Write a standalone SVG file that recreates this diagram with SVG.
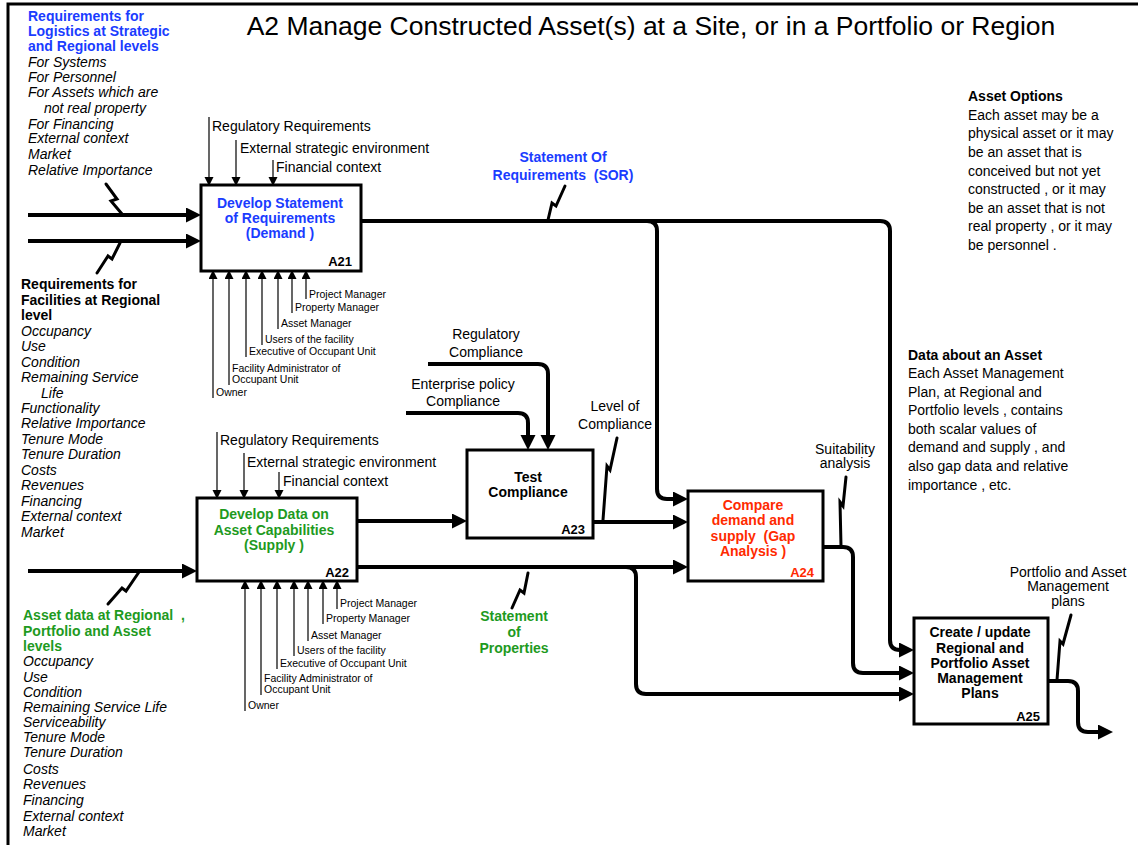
<svg xmlns="http://www.w3.org/2000/svg" width="1138" height="845" viewBox="0 0 1138 845">
<defs>
  <style>
    text { font-family: "Liberation Sans", Arial, Helvetica, sans-serif; font-size: 14px; fill: #000; }
    .b { font-weight: bold; }
    .i { font-style: italic; }
    .s { font-size: 10.5px; }
    .num { font-size: 13px; font-weight: bold; text-anchor: end; }
    .c { text-anchor: middle; }
    .blue { fill: #1a3cff; }
    .green { fill: #1e9a1e; }
    .red { fill: #ff2a00; }
    .pre { white-space: pre; }
    .box { fill: #fff; stroke: #000; stroke-width: 3; }
    .flow { fill: none; stroke: #000; stroke-width: 4; stroke-linejoin: round; marker-end: url(#big); }
    .plain { fill: none; stroke: #000; stroke-width: 4; stroke-linejoin: round; }
    .thin { fill: none; stroke: #000; stroke-width: 1.2; marker-end: url(#small); }
    .sq { fill: none; stroke: #000; stroke-width: 3; stroke-linejoin: miter; stroke-linecap: round; }
  </style>
  <marker id="big" markerUnits="userSpaceOnUse" markerWidth="16" markerHeight="16" refX="5" refY="7.5" orient="auto">
    <path d="M0,0 L15,7.5 L0,15 z" fill="#000"/>
  </marker>
  <marker id="small" markerUnits="userSpaceOnUse" markerWidth="10" markerHeight="10" refX="8" refY="4.5" orient="auto">
    <path d="M0,0 L9,4.5 L0,9 z" fill="#000"/>
  </marker>
</defs>

<rect width="1138" height="845" fill="#fff"/>

<!-- frame -->
<path d="M8,845 V4 H1138" fill="none" stroke="#000" stroke-width="3"/>

<!-- title -->
<text x="651" y="35" class="c" style="font-size:26.5px">A2 Manage Constructed Asset(s) at a Site, or in a Portfolio or Region</text>

<!-- side notes -->
<g id="note-logistics">
  <text x="28" y="21" class="b blue">Requirements for</text>
  <text x="28" y="36" class="b blue">Logistics at Strategic</text>
  <text x="28" y="51" class="b blue">and Regional levels</text>
  <text x="28" y="67" class="i">For Systems</text>
  <text x="28" y="82" class="i">For Personnel</text>
  <text x="28" y="97" class="i">For Assets which are</text>
  <text x="44" y="113" class="i">not real property</text>
  <text x="28" y="129" class="i">For Financing</text>
  <text x="28" y="143" class="i">External context</text>
  <text x="28" y="159" class="i">Market</text>
  <text x="28" y="175" class="i">Relative Importance</text>
</g>

<g id="note-facilities">
  <text x="21" y="289" class="b">Requirements for</text>
  <text x="21" y="305" class="b">Facilities at Regional</text>
  <text x="21" y="320" class="b">level</text>
  <text x="21" y="336" class="i">Occupancy</text>
  <text x="21" y="351" class="i">Use</text>
  <text x="21" y="367" class="i">Condition</text>
  <text x="21" y="382" class="i">Remaining Service</text>
  <text x="41" y="398" class="i">Life</text>
  <text x="21" y="413" class="i">Functionality</text>
  <text x="21" y="428" class="i">Relative Importance</text>
  <text x="21" y="444" class="i">Tenure Mode</text>
  <text x="21" y="459" class="i">Tenure Duration</text>
  <text x="21" y="475" class="i">Costs</text>
  <text x="21" y="490" class="i">Revenues</text>
  <text x="21" y="506" class="i">Financing</text>
  <text x="21" y="521" class="i">External context</text>
  <text x="21" y="537" class="i">Market</text>
</g>

<g id="note-asset-data">
  <text x="23" y="620" class="b green pre">Asset data at Regional  ,</text>
  <text x="23" y="636" class="b green">Portfolio and Asset</text>
  <text x="23" y="651" class="b green">levels</text>
  <text x="23" y="666" class="i">Occupancy</text>
  <text x="23" y="682" class="i">Use</text>
  <text x="23" y="697" class="i">Condition</text>
  <text x="23" y="712" class="i">Remaining Service Life</text>
  <text x="23" y="727" class="i">Serviceability</text>
  <text x="23" y="742" class="i">Tenure Mode</text>
  <text x="23" y="757" class="i">Tenure Duration</text>
  <text x="23" y="774" class="i">Costs</text>
  <text x="23" y="789" class="i">Revenues</text>
  <text x="23" y="805" class="i">Financing</text>
  <text x="23" y="821" class="i">External context</text>
  <text x="23" y="836" class="i">Market</text>
</g>

<g id="note-asset-options">
  <text x="968" y="101" class="b">Asset Options</text>
  <text x="968" y="120">Each asset may be a</text>
  <text x="968" y="138">physical asset or it may</text>
  <text x="968" y="157">be an asset that is</text>
  <text x="968" y="176">conceived but not yet</text>
  <text x="968" y="194">constructed , or it may</text>
  <text x="968" y="213">be an asset that is not</text>
  <text x="968" y="231">real property , or it may</text>
  <text x="968" y="250">be personnel .</text>
</g>

<g id="note-asset-data-about">
  <text x="908" y="360" class="b">Data about an Asset</text>
  <text x="908" y="378">Each Asset Management</text>
  <text x="908" y="397">Plan, at Regional and</text>
  <text x="908" y="415">Portfolio levels , contains</text>
  <text x="908" y="434">both scalar values of</text>
  <text x="908" y="452">demand and supply , and</text>
  <text x="908" y="471">also gap data and relative</text>
  <text x="908" y="490">importance , etc.</text>
</g>

<!-- connectors -->
<g id="connectors">
  <!-- inputs -->
  <path class="flow" d="M28,215 H191"/>
  <path class="flow" d="M28,241 H191"/>
  <path class="flow" d="M28,571 H187"/>
  <!-- A21 output: Statement of Requirements -->
  <path class="flow" d="M361,221 H880 Q890,221 890,231 V640 Q890,650 900,650 H904"/>
  <path class="flow" d="M647,221 Q657,221 657,231 V489 Q657,499 667,499 H678"/>
  <!-- A22 outputs -->
  <path class="flow" d="M357,521 H457"/>
  <path class="flow" d="M357,567 H678"/>
  <path class="flow" d="M626,567 Q636,567 636,577 V684 Q636,694 646,694 H904"/>
  <!-- A23 output: Level of Compliance -->
  <path class="flow" d="M593,522 H678"/>
  <!-- A24 output: Suitability analysis -->
  <path class="flow" d="M823,547 H843 Q853,547 853,557 V663 Q853,673 863,673 H904"/>
  <!-- A25 output -->
  <path class="flow" d="M1048,681 H1068 Q1078,681 1078,691 V722 Q1078,732 1088,732 H1103"/>
  <!-- A23 controls -->
  <path class="flow" d="M428,364 H538 Q548,364 548,374 V440"/>
  <path class="flow" d="M406,413 H518 Q528,413 528,423 V440"/>

  <!-- A21 controls -->
  <path class="thin" d="M209,117 V185"/>
  <path class="thin" d="M236,140 V185"/>
  <path class="thin" d="M273,160 V185"/>
  <!-- A22 controls -->
  <path class="thin" d="M217,432 V498"/>
  <path class="thin" d="M244,453 V498"/>
  <path class="thin" d="M279,472 V498"/>

  <!-- A21 mechanisms -->
  <path class="thin" d="M213,398 V271"/>
  <path class="thin" d="M229,385 V271"/>
  <path class="thin" d="M246,357 V271"/>
  <path class="thin" d="M262,345 V271"/>
  <path class="thin" d="M278,329 V271"/>
  <path class="thin" d="M292,313 V271"/>
  <path class="thin" d="M306,299 V271"/>
  <!-- A22 mechanisms -->
  <path class="thin" d="M245,711 V581"/>
  <path class="thin" d="M261,695 V581"/>
  <path class="thin" d="M277,669 V581"/>
  <path class="thin" d="M294,656 V581"/>
  <path class="thin" d="M308,641 V581"/>
  <path class="thin" d="M323,624 V581"/>
  <path class="thin" d="M337,609 V581"/>

  <!-- label squiggles -->
  <path class="sq" d="M106,184 L117,199 L111,201 L122,214"/>
  <path class="sq" d="M97,273 L108,256 L112,259 L120,243"/>
  <path class="sq" d="M108,604 L122,588 L126,591 L139,572"/>
  <path class="sq" d="M565,186 L556,206 L552,203 L548,220"/>
  <path class="sq" d="M512,608 L520,590 L524,593 L528,573"/>
  <path class="sq" d="M617,438 L610,470 L607,466 L603,520"/>
  <path class="sq" d="M846,477 L843,506 L840,502 L841,546"/>
  <path class="sq" d="M1071,615 L1063,644 L1060,641 L1057,680"/>
</g>

<!-- connector labels -->
<g id="labels">
  <text x="212" y="131">Regulatory Requirements</text>
  <text x="240" y="153">External strategic environment</text>
  <text x="276" y="172">Financial context</text>

  <text x="220" y="445">Regulatory Requirements</text>
  <text x="247" y="467">External strategic environment</text>
  <text x="283" y="486">Financial context</text>

  <text x="309" y="298" class="s">Project Manager</text>
  <text x="295" y="311" class="s">Property Manager</text>
  <text x="281" y="327" class="s">Asset Manager</text>
  <text x="265" y="343" class="s">Users of the facility</text>
  <text x="249" y="355" class="s">Executive of Occupant Unit</text>
  <text x="232" y="372" class="s">Facility Administrator of</text>
  <text x="232" y="383" class="s">Occupant Unit</text>
  <text x="216" y="396" class="s">Owner</text>

  <text x="340" y="607" class="s">Project Manager</text>
  <text x="326" y="622" class="s">Property Manager</text>
  <text x="311" y="639" class="s">Asset Manager</text>
  <text x="297" y="654" class="s">Users of the facility</text>
  <text x="280" y="667" class="s">Executive of Occupant Unit</text>
  <text x="264" y="682" class="s">Facility Administrator of</text>
  <text x="264" y="693" class="s">Occupant Unit</text>
  <text x="248" y="709" class="s">Owner</text>

  <text x="563" y="162" class="b blue c">Statement Of</text>
  <text x="563" y="180" class="b blue c pre">Requirements  (SOR)</text>

  <text x="486" y="339" class="c">Regulatory</text>
  <text x="486" y="357" class="c">Compliance</text>
  <text x="463" y="389" class="c">Enterprise policy</text>
  <text x="463" y="406" class="c">Compliance</text>

  <text x="615" y="411" class="c">Level of</text>
  <text x="615" y="429" class="c">Compliance</text>

  <text x="845" y="454" class="c">Suitability</text>
  <text x="845" y="468" class="c">analysis</text>

  <text x="514" y="621" class="b green c">Statement</text>
  <text x="514" y="637" class="b green c">of</text>
  <text x="514" y="653" class="b green c">Properties</text>

  <text x="1068" y="577" class="c">Portfolio and Asset</text>
  <text x="1068" y="591" class="c">Management</text>
  <text x="1068" y="606" class="c">plans</text>
</g>

<!-- activities -->
<g id="A21">
  <rect class="box" x="201" y="185" width="160" height="86"/>
  <text x="280" y="208" class="b blue c">Develop Statement</text>
  <text x="280" y="223" class="b blue c">of Requirements</text>
  <text x="280" y="238" class="b blue c">(Demand )</text>
  <text x="352" y="266" class="num">A21</text>
</g>

<g id="A22">
  <rect class="box" x="197" y="498" width="160" height="83"/>
  <text x="274" y="519" class="b green c">Develop Data on</text>
  <text x="274" y="535" class="b green c">Asset Capabilities</text>
  <text x="274" y="550" class="b green c">(Supply )</text>
  <text x="349" y="577" class="num">A22</text>
</g>

<g id="A23">
  <rect class="box" x="467" y="450" width="126" height="88"/>
  <text x="528" y="482" class="b c">Test</text>
  <text x="528" y="497" class="b c">Compliance</text>
  <text x="585" y="534" class="num">A23</text>
</g>

<g id="A24">
  <rect class="box" x="688" y="491" width="135" height="90"/>
  <text x="753" y="510" class="b red c">Compare</text>
  <text x="753" y="525" class="b red c">demand and</text>
  <text x="753" y="541" class="b red c pre">supply  (Gap</text>
  <text x="753" y="556" class="b red c">Analysis )</text>
  <text x="814" y="577" class="num red">A24</text>
</g>

<g id="A25">
  <rect class="box" x="914" y="618" width="134" height="106"/>
  <text x="980" y="637" class="b c">Create / update</text>
  <text x="980" y="653" class="b c">Regional and</text>
  <text x="980" y="668" class="b c">Portfolio Asset</text>
  <text x="980" y="683" class="b c">Management</text>
  <text x="980" y="698" class="b c">Plans</text>
  <text x="1040" y="721" class="num">A25</text>
</g>
</svg>
